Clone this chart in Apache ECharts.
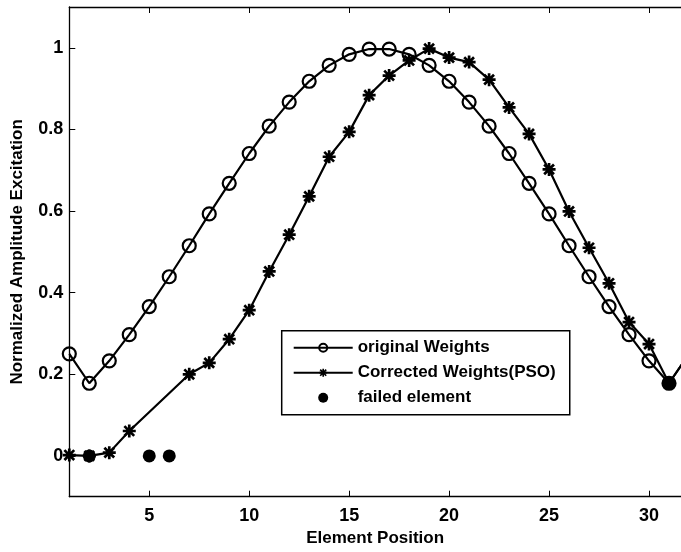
<!DOCTYPE html>
<html>
<head>
<meta charset="utf-8">
<script src="https://cdn.jsdelivr.net/npm/echarts@6/dist/echarts.min.js"></script>
<style>
html,body{margin:0;padding:0;background:#fff;}
#chart{width:681px;height:552px;}
</style>
</head>
<body>
<div id="chart"></div>
<script>
// ---- data ----
const positions = [1,2,3,4,5,6,7,8,9,10,11,12,13,14,15,16,17,18,19,20,21,22,23,24,25,26,27,28,29,30,31,32];
const originalWeights = [0.25,0.178,0.233,0.297,0.366,0.439,0.515,0.593,0.668,0.741,0.808,0.867,0.918,0.957,0.984,0.997,
                         0.997,0.984,0.957,0.918,0.867,0.808,0.741,0.668,0.593,0.515,0.439,0.366,0.297,0.233,0.178,0.25];
const correctedPositions = [1,2,3,4,7,8,9,10,11,12,13,14,15,16,17,18,19,20,21,22,23,24,25,26,27,28,29,30,31,32];
const correctedWeights = [0.002,0,0.008,0.061,0.2,0.228,0.286,0.357,0.452,0.542,0.636,0.733,0.794,0.884,0.932,0.969,0.998,
                          0.976,0.965,0.922,0.854,0.789,0.702,0.599,0.51,0.423,0.328,0.274,0.178,0.25];
const failedPositions = [2,5,6,31];
const failedValues = [0,0,0,0.178];
const xTicks = [5,10,15,20,25,30];
const yTicks = [0,0.2,0.4,0.6,0.8,1];
const seriesNames = ['original Weights','Corrected Weights(PSO)','failed element'];
const xTitle = 'Element Position';
const yTitle = 'Normalized Amplitude Excitation';

const FONT = '"Liberation Sans", Arial, Helvetica, sans-serif';
const asterisk = 'path://M9.5 0H14.5V24H9.5Z M0 9.5H24V14.5H0Z M1.2 4.7L4.7 1.2L22.8 19.3L19.3 22.8Z M19.3 1.2L22.8 4.7L4.7 22.8L1.2 19.3Z';

const chart = echarts.init(document.getElementById('chart'), null, {renderer:'canvas'});
const axisLine = {show:true, onZero:false, lineStyle:{color:'#000', width:1.3}};
chart.setOption({
  backgroundColor:'#fff',
  animation:false,
  grid:{left:69.3, top:7, right:0, bottom:55.3, containLabel:false},
  legend:{
    orient:'vertical', left:281.7, top:330.7,
    borderColor:'#000', borderWidth:1.5, backgroundColor:'#fff',
    padding:[7,14,7,11], itemGap:5, itemWidth:59, itemHeight:10,
    textStyle:{fontFamily:FONT, fontWeight:'bold', fontSize:17, color:'#000', lineHeight:20},
    data:seriesNames
  },
  xAxis:[{
    type:'value', min:1, max:31.6, position:'bottom',
    name:xTitle, nameLocation:'middle', nameGap:32,
    nameTextStyle:{fontFamily:FONT, fontWeight:'bold', fontSize:17, color:'#000'},
    axisLine:axisLine,
    axisTick:{show:true, inside:true, length:6, customValues:xTicks, lineStyle:{color:'#000', width:1}},
    axisLabel:{show:true, customValues:xTicks, margin:10, fontFamily:FONT, fontWeight:'bold', fontSize:18, color:'#000'},
    splitLine:{show:false}
  },{
    type:'value', min:1, max:31.6, position:'top',
    axisLine:axisLine,
    axisTick:{show:true, inside:true, length:6, customValues:xTicks, lineStyle:{color:'#000', width:1}},
    axisLabel:{show:false},
    splitLine:{show:false}
  }],
  yAxis:[{
    type:'value', min:-0.1, max:1.1, position:'left',
    name:yTitle, nameLocation:'middle', nameGap:43, nameRotate:90,
    nameTextStyle:{fontFamily:FONT, fontWeight:'bold', fontSize:17, color:'#000'},
    axisLine:axisLine,
    axisTick:{show:true, inside:true, length:6, customValues:yTicks, lineStyle:{color:'#000', width:1}},
    axisLabel:{show:true, customValues:yTicks, margin:6, fontFamily:FONT, fontWeight:'bold', fontSize:18, color:'#000',
      formatter:function(v){return String(+Number(v).toFixed(1));}},
    splitLine:{show:false}
  }],
  series:[{
    name:seriesNames[0], type:'line', xAxisIndex:0,
    data:positions.map((x,i)=>[x, originalWeights[i]]),
    symbol:'circle', symbolSize:13, clip:true,
    lineStyle:{color:'#000', width:2.2},
    itemStyle:{color:'rgba(255,255,255,0)', borderColor:'#000', borderWidth:2.2},
    z:2
  },{
    name:seriesNames[1], type:'line', xAxisIndex:0,
    data:correctedPositions.map((x,i)=>[x, correctedWeights[i]]),
    symbol:asterisk, symbolSize:13, clip:true,
    lineStyle:{color:'#000', width:2.2},
    itemStyle:{color:'#000'},
    z:3
  },{
    name:seriesNames[2], type:'scatter', xAxisIndex:0,
    data:failedPositions.map((x,i)=>[x, failedValues[i]]),
    symbol:'circle', symbolSize:13, clip:true,
    itemStyle:{color:'#000', opacity:1},
    z:4
  }]
});
</script>
</body>
</html>
